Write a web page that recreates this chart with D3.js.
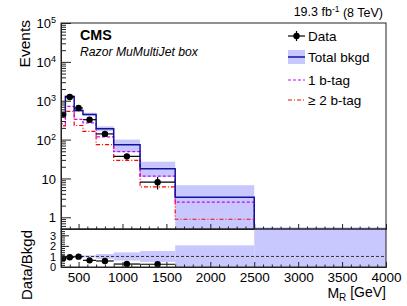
<!DOCTYPE html>
<html lang="en">
<head>
<meta charset="UTF-8">
<title>Razor MuMultiJet box</title>
<style>
    body { margin: 0; background: #fff; }
    svg { display: block; font-family: "Liberation Sans", Arial, sans-serif; }
    .frame { fill: none; stroke: #222; stroke-width: 1; }
    .axis path, .axis line { stroke: #222; stroke-width: 1; }
    .axis text { fill: #000; font-family: "Liberation Sans", Arial, sans-serif; }
</style>
</head>
<body>
<svg id="chart" width="407" height="306"></svg>
<script src="https://d3js.org/d3.v7.min.js"></script>
<script>
// M_R bin edges (GeV)
var binEdges = [300, 350, 450, 550, 700, 900, 1200, 1600, 2500, 4000];
// events per bin
var dataCounts = [440, 1250, 650, 325, 140, 37, 8, 0, 0];
var totalBkgd  = [480, 1290, 560, 440, 191, 74, 17.7, 3.3, 0.2];
var bkgdLow    = [440, 1200, 510, 410, 165, 48, 11, 0.3, 0.05];
var bkgdHigh   = [520, 1390, 610, 490, 219, 100, 27, 6.7, 0.55];
var oneBtag    = [255, 713, 330, 268, 117, 49, 11.5, 2.47, 0.15];
var twoBtag    = [225, 532, 230, 163, 74, 29, 6.1, 0.89, 0.06];
// ratio panel
var ratioVals  = [0.82, 0.92, 0.98, 0.63, 0.57, 0.28, 0.26, null, null];
var ratioBand  = [0.08, 0.08, 0.1, 0.1, 0.23, 0.39, 0.52, 1.05, 5];
// ticks
var xMajor = [500, 1000, 1500, 2000, 2500, 3000, 3500, 4000];
var yMajor = [1, 10, 100, 1000, 10000, 100000];
var ratioMajor = [0, 1, 2, 3];

var bandColor = '#c8c8ff';
var blue = '#12129e';
var magenta = '#cc00ff';
var red = '#ff0000';

var svg = d3.select('#chart');

var x = d3.scaleLinear().domain([300, 4000]).range([61, 386]);
var y = d3.scaleLog().domain([0.5, 1e5]).range([229, 23]);
var yr = d3.scaleLinear().domain([0, 3.6]).range([267, 229]);

var bins = binEdges.slice(0, -1).map(function(e, i) {
    return { i: i, lo: e, hi: binEdges[i + 1], mid: (e + binEdges[i + 1]) / 2 };
});

// clip paths
var defs = svg.append('defs');
defs.append('clipPath').attr('id', 'clipMain')
    .append('rect').attr('x', 61).attr('y', 23).attr('width', 325).attr('height', 206);
defs.append('clipPath').attr('id', 'clipRatio')
    .append('rect').attr('x', 61).attr('y', 229).attr('width', 325).attr('height', 38);

// ---------- main panel ----------
var main = svg.append('g').attr('clip-path', 'url(#clipMain)');

main.selectAll('.band')
    .data(bins)
    .enter().append('rect')
    .attr('x', d => x(d.lo))
    .attr('width', d => x(d.hi) - x(d.lo))
    .attr('y', d => y(bkgdHigh[d.i]))
    .attr('height', d => y(Math.max(bkgdLow[d.i], 0.01)) - y(bkgdHigh[d.i]))
    .attr('fill', bandColor);

function stepPath(vals) {
    var pts = [[binEdges[0], 0.01]];
    vals.forEach(function(v, i) {
        pts.push([binEdges[i], v]);
        pts.push([binEdges[i + 1], v]);
    });
    pts.push([binEdges[binEdges.length - 1], 0.01]);
    return d3.line().x(d => x(d[0])).y(d => y(d[1]))(pts);
}

main.append('path').attr('d', stepPath(twoBtag))
    .attr('fill', 'none').attr('stroke', red).attr('stroke-width', 1.2)
    .attr('stroke-dasharray', '4,2,1,2');
main.append('path').attr('d', stepPath(oneBtag))
    .attr('fill', 'none').attr('stroke', magenta).attr('stroke-width', 1.2)
    .attr('stroke-dasharray', '3,2');
main.append('path').attr('d', stepPath(totalBkgd))
    .attr('fill', 'none').attr('stroke', blue).attr('stroke-width', 1.5);

var dataBins = bins.filter(d => dataCounts[d.i] > 0);
var pts = main.selectAll('.pt').data(dataBins).enter().append('g');
pts.append('line')
    .attr('x1', d => x(d.lo)).attr('x2', d => x(d.hi))
    .attr('y1', d => y(dataCounts[d.i])).attr('y2', d => y(dataCounts[d.i]))
    .attr('stroke', '#000').attr('stroke-width', 1.2);
pts.append('line')
    .attr('x1', d => x(d.mid)).attr('x2', d => x(d.mid))
    .attr('y1', d => y(dataCounts[d.i] + Math.sqrt(dataCounts[d.i])))
    .attr('y2', d => y(dataCounts[d.i] - Math.sqrt(dataCounts[d.i])))
    .attr('stroke', '#000').attr('stroke-width', 1.2);
pts.append('circle')
    .attr('cx', d => x(d.mid)).attr('cy', d => y(dataCounts[d.i]))
    .attr('r', 3.2).attr('fill', '#000');

// main axes
var yMinor = [];
[0.1, 1, 10, 100, 1000, 10000].forEach(function(dec) {
    for (var k = 2; k <= 9; k++) if (dec * k >= 0.5 && dec * k < 1e5) yMinor.push(dec * k);
});
svg.append('g').attr('class', 'axis').attr('transform', 'translate(61,0)')
    .call(d3.axisLeft(y).tickValues(yMinor).tickSize(-5).tickSizeOuter(0).tickFormat(''));
var yAx = svg.append('g').attr('class', 'axis').attr('transform', 'translate(61,0)')
    .call(d3.axisLeft(y).tickValues(yMajor).tickSize(-10).tickSizeOuter(0).tickPadding(5).tickFormat(''));
yAx.selectAll('.tick text').each(function(d) {
    var t = d3.select(this).attr('font-size', 13).attr('dy', '0.35em');
    var p = Math.round(Math.log10(d));
    if (p < 2) {
        t.text(d);
    } else {
        t.append('tspan').text('10');
        t.append('tspan').attr('font-size', 9).attr('dy', '-0.55em').text(p);
    }
});

var xMinor = d3.range(300, 4001, 100).filter(v => v % 500 !== 0);
svg.append('g').attr('class', 'axis').attr('transform', 'translate(0,229)')
    .call(d3.axisBottom(x).tickValues(xMinor).tickSize(-2.5).tickSizeOuter(0).tickFormat(''));
svg.append('g').attr('class', 'axis').attr('transform', 'translate(0,229)')
    .call(d3.axisBottom(x).tickValues(xMajor).tickSize(-5).tickSizeOuter(0).tickFormat(''));

// ---------- ratio panel ----------
var ratio = svg.append('g').attr('clip-path', 'url(#clipRatio)');
ratio.selectAll('.rband').data(bins).enter().append('rect')
    .attr('x', d => x(d.lo))
    .attr('width', d => x(d.hi) - x(d.lo))
    .attr('y', d => yr(1 + ratioBand[d.i]))
    .attr('height', d => yr(1 - ratioBand[d.i]) - yr(1 + ratioBand[d.i]))
    .attr('fill', bandColor);
ratio.append('line')
    .attr('x1', x(300)).attr('x2', x(4000)).attr('y1', yr(1)).attr('y2', yr(1))
    .attr('stroke', '#333').attr('stroke-width', 1).attr('stroke-dasharray', '3,2');

var rBins = bins.filter(d => ratioVals[d.i] !== null);
var rp = ratio.selectAll('.rpt').data(rBins).enter().append('g');
rp.append('line')
    .attr('x1', d => x(d.lo)).attr('x2', d => x(d.hi))
    .attr('y1', d => yr(ratioVals[d.i])).attr('y2', d => yr(ratioVals[d.i]))
    .attr('stroke', '#000').attr('stroke-width', 1.2);
rp.append('line')
    .attr('x1', d => x(d.mid)).attr('x2', d => x(d.mid))
    .attr('y1', d => yr(ratioVals[d.i] * (1 + 1 / Math.sqrt(dataCounts[d.i]))))
    .attr('y2', d => yr(ratioVals[d.i] * (1 - 1 / Math.sqrt(dataCounts[d.i]))))
    .attr('stroke', '#000').attr('stroke-width', 1.2);
rp.append('circle')
    .attr('cx', d => x(d.mid)).attr('cy', d => yr(ratioVals[d.i]))
    .attr('r', 3.2).attr('fill', '#000');

svg.append('g').attr('class', 'axis').attr('transform', 'translate(61,0)')
    .call(d3.axisLeft(yr).tickValues(d3.range(0, 3.61, 0.2)).tickSize(-4).tickSizeOuter(0).tickFormat(''));
svg.append('g').attr('class', 'axis').attr('transform', 'translate(61,0)')
    .call(d3.axisLeft(yr).tickValues(ratioMajor).tickSize(-8).tickSizeOuter(0).tickPadding(5).tickFormat(d3.format('d')))
    .selectAll('text').attr('font-size', 11).attr('dy', '0.34em');

svg.append('g').attr('class', 'axis').attr('transform', 'translate(0,267)')
    .call(d3.axisBottom(x).tickValues(xMinor).tickSize(-2.5).tickSizeOuter(0).tickFormat(''));
svg.append('g').attr('class', 'axis').attr('transform', 'translate(0,267)')
    .call(d3.axisBottom(x).tickValues(xMajor).tickSize(-5).tickSizeOuter(0).tickPadding(5).tickFormat(d3.format('d')))
    .selectAll('text').attr('font-size', 13.5);

// frames
svg.append('rect').attr('class', 'frame').attr('x', 61).attr('y', 23).attr('width', 325).attr('height', 206);
svg.append('rect').attr('class', 'frame').attr('x', 61).attr('y', 229).attr('width', 325).attr('height', 38);

// ---------- titles ----------
svg.append('text')
    .attr('transform', 'translate(30,20) rotate(-90)')
    .attr('text-anchor', 'end').attr('font-size', 15.5).text('Events');
svg.append('text')
    .attr('transform', 'translate(32,230) rotate(-90)')
    .attr('text-anchor', 'end').attr('font-size', 15).text('Data/Bkgd');

var mr = svg.append('text').attr('x', 386).attr('y', 298)
    .attr('text-anchor', 'end').attr('font-size', 14);
mr.append('tspan').text('M');
mr.append('tspan').attr('font-size', 10).attr('dy', '0.3em').text('R');
mr.append('tspan').attr('dy', '-0.3em').text(' [GeV]');

var lumi = svg.append('text').attr('x', 383).attr('y', 16)
    .attr('text-anchor', 'end').attr('font-size', 12.5);
lumi.append('tspan').text('19.3 fb');
lumi.append('tspan').attr('font-size', 8.5).attr('dy', '-0.5em').text('-1');
lumi.append('tspan').attr('dy', '0.45em').text(' (8 TeV)');

svg.append('text').attr('x', 80).attr('y', 40)
    .attr('font-size', 14.3).attr('font-weight', 'bold').text('CMS');
svg.append('text').attr('x', 80).attr('y', 56)
    .attr('font-size', 12.2).attr('font-style', 'italic').text('Razor MuMultiJet box');

// ---------- legend ----------
var legendNames = ['Data', 'Total bkgd', '1 b-tag', '\u2265 2 b-tag'];
var legendY = [36, 57, 80, 100];
var lg = svg.append('g');
// data
lg.append('line').attr('x1', 288).attr('x2', 305).attr('y1', legendY[0]).attr('y2', legendY[0])
    .attr('stroke', '#000').attr('stroke-width', 1.2);
lg.append('line').attr('x1', 296.5).attr('x2', 296.5).attr('y1', legendY[0] - 5).attr('y2', legendY[0] + 5)
    .attr('stroke', '#000').attr('stroke-width', 1.2);
lg.append('circle').attr('cx', 296.5).attr('cy', legendY[0]).attr('r', 3.2).attr('fill', '#000');
// total bkgd
lg.append('rect').attr('x', 288).attr('y', legendY[1] - 7).attr('width', 17).attr('height', 14)
    .attr('fill', bandColor);
lg.append('line').attr('x1', 288).attr('x2', 305).attr('y1', legendY[1]).attr('y2', legendY[1])
    .attr('stroke', blue).attr('stroke-width', 1.5);
lg.append('line').attr('x1', 288).attr('x2', 305).attr('y1', legendY[2]).attr('y2', legendY[2])
    .attr('stroke', magenta).attr('stroke-width', 1.2).attr('stroke-dasharray', '3,2');
lg.append('line').attr('x1', 288).attr('x2', 305).attr('y1', legendY[3]).attr('y2', legendY[3])
    .attr('stroke', red).attr('stroke-width', 1.2).attr('stroke-dasharray', '4,2,1,2');
lg.selectAll('.ltext').data(legendNames).enter().append('text')
    .attr('x', 308).attr('y', (d, i) => legendY[i] + 5)
    .attr('font-size', 13.5).text(d => d);
</script>
</body>
</html>
